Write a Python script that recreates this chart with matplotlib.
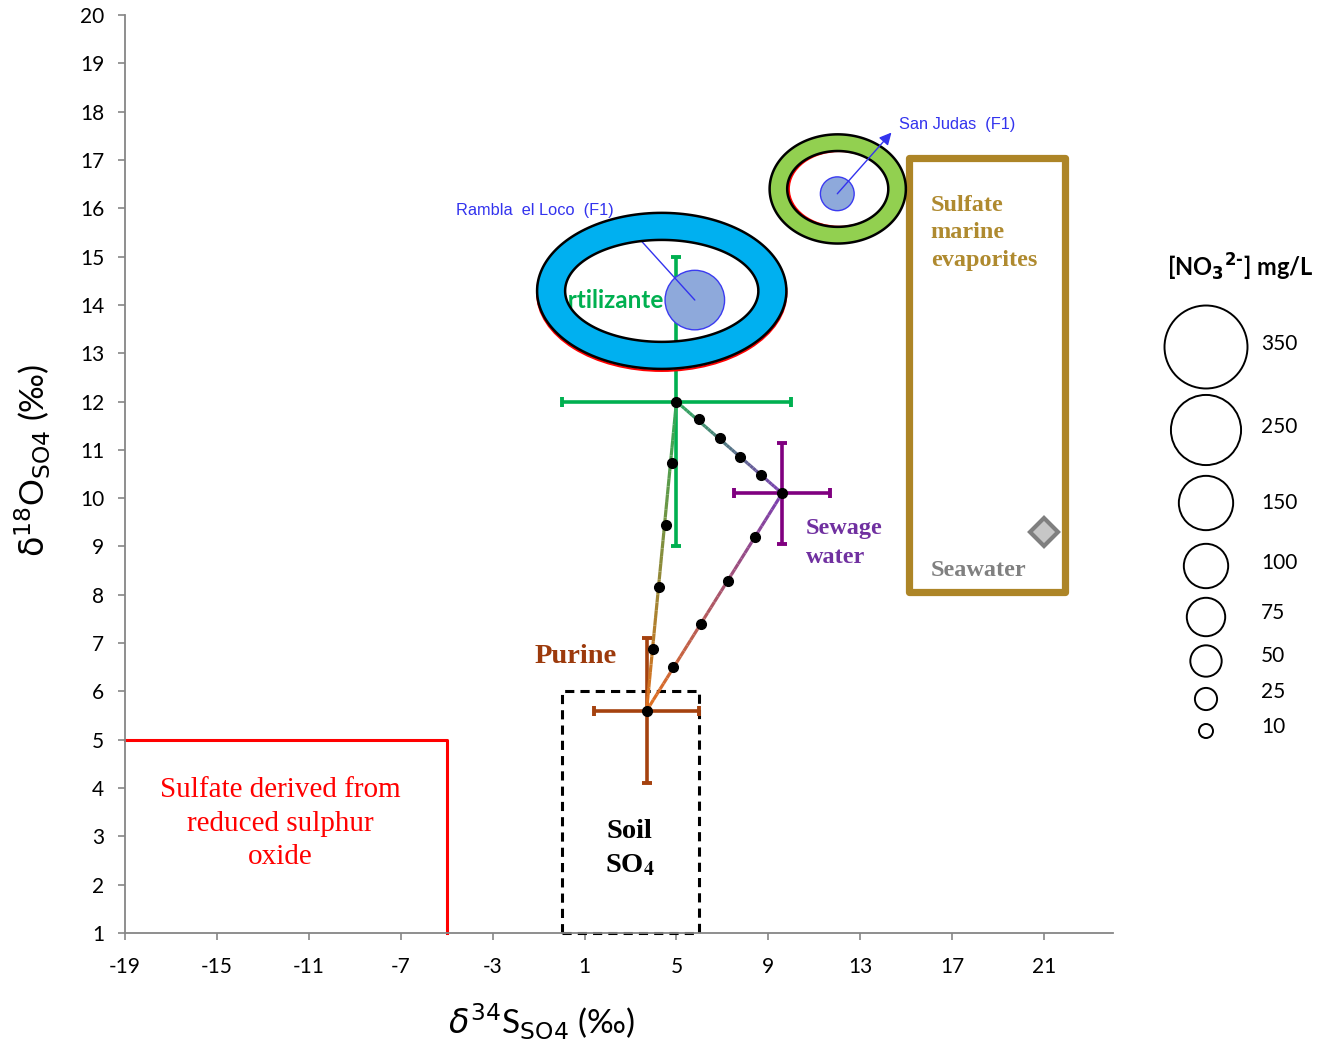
import matplotlib
matplotlib.use("Agg")
import matplotlib.pyplot as plt
import numpy as np
from matplotlib.collections import LineCollection
from matplotlib.colors import to_rgb
from matplotlib.patches import Ellipse, PathPatch, Rectangle
from matplotlib.path import Path

plt.rcParams["axes.unicode_minus"] = False

# end-members (delta34S, delta18O) with their error bars
SRC_NAMES = ["Fertilizante", "Sewage water", "Purine"]
SRC_X = [5.0, 9.6, 3.7]
SRC_Y = [12.0, 10.1, 5.6]
SRC_XERR = [5.0, 2.1, 2.3]
SRC_YERR = [3.0, 1.05, 1.5]

# mixing points
MIX_PF_X = [3.96, 4.22, 4.53, 4.79]
MIX_PF_Y = [6.88, 8.16, 9.44, 10.73]
MIX_PS_X = [4.83, 6.05, 7.23, 8.41]
MIX_PS_Y = [6.50, 7.39, 8.28, 9.20]
MIX_SF_X = [5.97, 6.88, 7.75, 8.67]
MIX_SF_Y = [11.64, 11.24, 10.85, 10.48]

# samples
SAMPLE_NAMES = ["Rambla  el Loco  (F1)", "San Judas  (F1)"]
SAMPLE_X = [5.8, 12.0]
SAMPLE_Y = [14.1, 16.3]
SAMPLE_NO3 = [180, 58]

SEAWATER_X = [21.0]
SEAWATER_Y = [9.3]

LEGEND_NO3 = [350, 250, 150, 100, 75, 50, 25, 10]

X_TICKS = list(range(-19, 22, 4))
Y_TICKS = list(range(1, 21))

SIZE_PER_MG = 10.2  # marker area (pt^2) per mg/L

C_FER = "#00B050"
C_SEW = "#800080"
C_PUR = "#A5420F"
C_GOLD = "#AD8527"
C_NOTE = "#3333EE"

SERIF = "Liberation Serif"
SANS = "Lato"


def grad_line(ax, p0, p1, c0, c1, n=40, z=3):
    xs = np.linspace(p0[0], p1[0], n + 1)
    ys = np.linspace(p0[1], p1[1], n + 1)
    pts = np.column_stack([xs, ys])
    segs = np.stack([pts[:-1], pts[1:]], axis=1)
    a, b = np.array(to_rgb(c0)), np.array(to_rgb(c1))
    cols = [a + (b - a) * t for t in np.linspace(0, 1, n)]
    ax.add_collection(LineCollection(segs, colors=cols, linewidths=2.3, zorder=z))


def draw_ring(ax, cx, cy, w_out, h_out, w_in, h_in, face, z):
    t = np.linspace(0, 2 * np.pi, 181)
    outer = np.column_stack([cx + w_out / 2 * np.cos(t), cy + h_out / 2 * np.sin(t)])
    inner = np.column_stack([cx + w_in / 2 * np.cos(t), cy + h_in / 2 * np.sin(t)])[::-1]
    n = len(t)
    codes = np.full(2 * n, Path.LINETO)
    codes[0] = Path.MOVETO
    codes[n] = Path.MOVETO
    ax.add_patch(PathPatch(Path(np.vstack([outer, inner]), codes),
                           facecolor=face, edgecolor="black", lw=1.8, zorder=z))


fig = plt.figure(figsize=(13.18, 10.46), dpi=100)
ax = fig.add_axes([125 / 1318, 113 / 1046, 988 / 1318, 918 / 1046])
ax.set_xlim(-19, 24)
ax.set_ylim(1, 20)
for side in ["top", "right"]:
    ax.spines[side].set_visible(False)
for side in ["left", "bottom"]:
    ax.spines[side].set_color("#868686")
    ax.spines[side].set_linewidth(1.3)
ax.set_xticks(X_TICKS)
ax.set_yticks(Y_TICKS)
ax.tick_params(axis="both", direction="out", length=5, width=1.2, color="#868686",
               labelsize=15)
ax.tick_params(axis="x", pad=12)
ax.tick_params(axis="y", pad=10)
for lab in ax.get_xticklabels() + ax.get_yticklabels():
    lab.set_fontfamily(SANS)

# source fields
ax.plot([-19, -5, -5], [5, 5, 1], color="red", lw=2.2, zorder=2, clip_on=False)
ax.text(-12.25, 3.26, "Sulfate derived from\nreduced sulphur\noxide", color="red",
        family=SERIF, fontsize=21, ha="center", va="center", linespacing=1.38)

ax.add_patch(Rectangle((0, 1), 6, 5, fill=False, ls=(0, (3, 2)), lw=2.2,
                       edgecolor="black", zorder=2, clip_on=False))
ax.text(2.96, 2.74, "Soil\nSO$_\\mathbf{4}$", family=SERIF, fontweight="bold", fontsize=20.5,
        ha="center", va="center", linespacing=1.43, math_fontfamily="stix")

ax.add_patch(Rectangle((15.1, 8.05), 6.8, 9.0, fill=False, lw=5.2, edgecolor=C_GOLD,
                       joinstyle="round", zorder=2))
ax.text(16.07, 15.49, "Sulfate\nmarine\nevaporites", family=SERIF, fontweight="bold",
        fontsize=17.5, color="#AF8A2F", ha="left", va="center", linespacing=1.39)
ax.text(16.07, 8.51, "Seawater", family=SERIF, fontweight="bold", fontsize=17.5,
        color="#808080", ha="left", va="center")
ax.plot(SEAWATER_X, SEAWATER_Y, marker="D", ms=14, mfc="#C6C6C6", mec="#7F7F7F",
        mew=3, ls="none", zorder=3)

# end-member error bars
for name, x, y, xe, ye, c in zip(SRC_NAMES, SRC_X, SRC_Y, SRC_XERR, SRC_YERR,
                                 [C_FER, C_SEW, C_PUR]):
    ax.errorbar(x, y, xerr=xe, yerr=ye, color=c, elinewidth=2.6, capsize=3.5,
                capthick=2.8, ls="none", zorder=2)

ax.text(4.45, 14.1, "Fertilizante", family=SANS, fontweight="bold", fontsize=17.5,
        color=C_FER, ha="right", va="center", zorder=2)
ax.text(-1.18, 6.73, "Purine", family=SERIF, fontweight="bold", fontsize=20.5,
        color="#9C3A0C", ha="left", va="center")
ax.text(10.63, 9.07, "Sewage\nwater", family=SERIF, fontweight="bold", fontsize=17.5,
        color="#7030A0", ha="left", va="center", linespacing=1.45)

# mixing lines
fer, sew, pur = list(zip(SRC_X, SRC_Y))
grad_line(ax, pur, fer, "#E0701E", "#2EAA5A")
grad_line(ax, pur, sew, "#E0701E", "#7B3FB0")
grad_line(ax, sew, fer, "#7B3FB0", "#2EAA5A")
ax.plot(SRC_X + MIX_PF_X + MIX_PS_X + MIX_SF_X, SRC_Y + MIX_PF_Y + MIX_PS_Y + MIX_SF_Y,
        "o", color="black", ms=7, zorder=4)

# samples
ax.scatter(SAMPLE_X, SAMPLE_Y, s=[SIZE_PER_MG * c for c in SAMPLE_NO3], facecolor="#8EA9DB",
           edgecolor="#3B3BF0", lw=1, zorder=3.5)

ax.annotate(SAMPLE_NAMES[0], xy=(SAMPLE_X[0], SAMPLE_Y[0]), xytext=(2.26, 15.96),
            family="Liberation Sans", fontsize=11.8, color=C_NOTE, ha="right", va="center",
            arrowprops=dict(arrowstyle="<|-", color=C_NOTE, lw=1, shrinkA=8, shrinkB=0,
                            relpos=(1, 0.5), mutation_scale=18),
            zorder=4)
ax.annotate(SAMPLE_NAMES[1], xy=(SAMPLE_X[1], SAMPLE_Y[1]), xytext=(14.68, 17.74),
            family="Liberation Sans", fontsize=11.8, color=C_NOTE, ha="left", va="center",
            arrowprops=dict(arrowstyle="<|-", color=C_NOTE, lw=1, shrinkA=5, shrinkB=0,
                            relpos=(0, 0.5), mutation_scale=18),
            zorder=6)

# highlight rings
ax.add_patch(Ellipse((4.36, 14.25), 10.85, 3.23, fill=False, edgecolor="red", lw=1.6, zorder=4.9))
draw_ring(ax, 4.36, 14.29, 10.85, 3.23, 8.41, 2.11, "#00B0F0", 5)
ax.add_patch(Ellipse((12.09, 16.4), 4.4, 1.57, fill=False, edgecolor="red", lw=1.6, zorder=4.9))
draw_ring(ax, 12.02, 16.4, 5.93, 2.26, 4.4, 1.57, "#92D050", 5)

# axis labels
fig.text(541 / 1318, 1 - 1022 / 1046, "$\\mathit{\\delta}^{34}$S$_{\\mathrm{SO4}}$ (‰)",
         family=SANS, fontsize=24, ha="center", va="center", math_fontfamily="dejavusans")
fig.text(33 / 1318, 1 - 460 / 1046, "$\\mathrm{\\delta}^{18}$O$_{\\mathrm{SO4}}$ (‰)",
         family=SANS, fontsize=24, ha="center", va="center", rotation=90,
         math_fontfamily="dejavusans")

# bubble size legend (pixel coordinates)
lax = fig.add_axes([0, 0, 1, 1])
lax.set_xlim(0, 1318)
lax.set_ylim(1046, 0)
lax.axis("off")
leg_y = [347, 430, 503, 566, 617, 661, 699, 731]
lab_y = [344, 427, 503, 563, 613, 656, 692, 727]
lax.scatter([1206] * len(LEGEND_NO3), leg_y, s=[SIZE_PER_MG * c for c in LEGEND_NO3],
            facecolor="none", edgecolor="black", lw=1.4)
for v, yy in zip(LEGEND_NO3, lab_y):
    lax.text(1261, yy, str(v), family=SANS, fontsize=15, ha="left", va="center")
lax.text(1240, 267, "[NO$_{\\mathbf{3}}$$^{\\mathbf{2\u2010}}$] mg/L", family=SANS,
         fontweight="bold", fontsize=17, ha="center", va="center",
         math_fontfamily="dejavusans")

fig.savefig("out.png", dpi=100)
